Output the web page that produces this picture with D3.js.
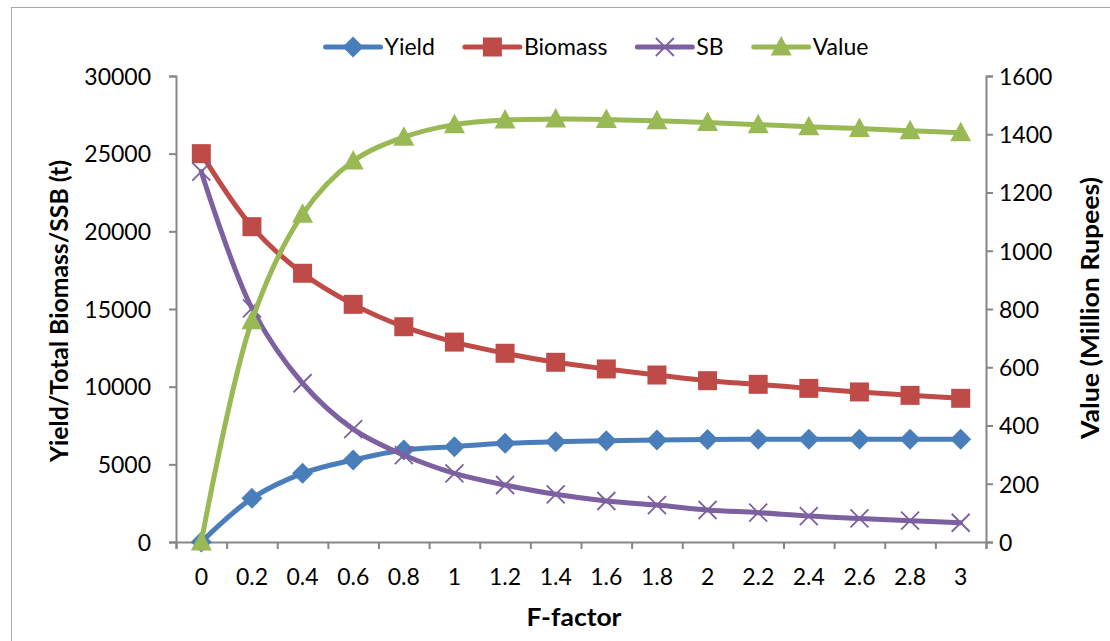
<!DOCTYPE html>
<html>
<head>
<meta charset="utf-8">
<script src="https://cdn.jsdelivr.net/npm/d3@7"></script>
<style>
  body { margin: 0; background: #fff; }
  text { font-family: Lato, "Open Sans", sans-serif; fill: #000; }
</style>
</head>
<body>
<div id="canvas"></div>
<script>
"use strict";

/* ------------------------------------------------------------
   Yield / Biomass / SB / Value against F-factor
   left axis = tonnes, right axis = million rupees
------------------------------------------------------------- */

let svgWidth = 1110;
let svgHeight = 641;
let margin = { top: 76, right: 124, bottom: 99, left: 176 };

/* === Data === */
let fFactor = ["0", "0.2", "0.4", "0.6", "0.8", "1", "1.2", "1.4", "1.6", "1.8", "2", "2.2", "2.4", "2.6", "2.8", "3"];
let yieldT = [0, 2810, 4420, 5280, 5920, 6140, 6350, 6460, 6520, 6570, 6600, 6610, 6620, 6620, 6620, 6620];
let biomassT = [25000, 20300, 17300, 15300, 13860, 12870, 12150, 11570, 11140, 10750, 10385, 10150, 9890, 9660, 9440, 9250];
let sbT = [23840, 15040, 10220, 7270, 5600, 4420, 3670, 3070, 2640, 2380, 2060, 1890, 1670, 1520, 1370, 1240];
let valueMR = [0, 760, 1125, 1308, 1390, 1433, 1449, 1452, 1451, 1446, 1440, 1433, 1426, 1420, 1412, 1405];

let leftTicks = [0, 5000, 10000, 15000, 20000, 25000, 30000];
let rightTicks = [0, 200, 400, 600, 800, 1000, 1200, 1400, 1600];

let series = [
  { name: "Yield", values: yieldT, axis: "left", color: "#4A7EBB", marker: "diamond" },
  { name: "Biomass", values: biomassT, axis: "left", color: "#BE4B48", marker: "square" },
  { name: "SB", values: sbT, axis: "left", color: "#7D60A0", marker: "x" },
  { name: "Value", values: valueMR, axis: "right", color: "#98B954", marker: "triangle" }
];

/* === Scales === */
let plotLeft = margin.left;
let plotRight = svgWidth - margin.right;
let plotBottom = svgHeight - margin.bottom;

let xScale = d3.scaleBand()
  .domain(fFactor)
  .range([plotLeft, plotRight])
  .paddingInner(0)
  .paddingOuter(0);

// boundaries between categories, used for the tick marks
let xEdge = d3.scaleLinear()
  .domain([0, fFactor.length])
  .range([plotLeft, plotRight]);

let yLeft = d3.scaleLinear()
  .domain([0, 30000])
  .range([plotBottom, margin.top]);

let yRight = d3.scaleLinear()
  .domain([0, 1600])
  .range([plotBottom, margin.top]);

/* === SVG === */
let svg = d3.select("#canvas")
  .append("svg")
  .attr("width", svgWidth)
  .attr("height", svgHeight);

svg.append("rect")
  .attr("width", svgWidth)
  .attr("height", svgHeight)
  .attr("fill", "#fff");

// chart frame (right and bottom edges fall outside the picture)
svg.append("rect")
  .attr("x", 11.5)
  .attr("y", 7.5)
  .attr("width", svgWidth + 20)
  .attr("height", svgHeight + 20)
  .attr("fill", "none")
  .attr("stroke", "#a8a8a8")
  .attr("stroke-width", 1);

/* === Axes === */
let axisColor = "#868686";

let gLeft = svg.append("g")
  .attr("transform", `translate(${plotLeft}, 0)`)
  .call(d3.axisLeft(yLeft).tickValues(leftTicks).tickSize(7).tickPadding(18).tickFormat(d3.format("d")));

let gRight = svg.append("g")
  .attr("transform", `translate(${plotRight}, 0)`)
  .call(d3.axisRight(yRight).tickValues(rightTicks).tickSize(7).tickPadding(6).tickFormat(d3.format("d")));

let gEdge = svg.append("g")
  .attr("transform", `translate(0, ${plotBottom})`)
  .call(d3.axisBottom(xEdge).ticks(fFactor.length).tickSize(7).tickFormat(""));

let gBottom = svg.append("g")
  .attr("transform", `translate(0, ${plotBottom})`)
  .call(d3.axisBottom(xScale).tickSize(0).tickPadding(27));

[gLeft, gRight, gEdge, gBottom].forEach(g => {
  g.selectAll("path.domain").attr("stroke", axisColor).attr("stroke-width", 2);
  g.selectAll(".tick line").attr("stroke", axisColor).attr("stroke-width", 2);
  g.selectAll(".tick text")
    .attr("font-family", "Lato, sans-serif")
    .attr("font-size", "23px")
    .attr("fill", "#000");
});
gBottom.select("path.domain").remove();
gLeft.selectAll(".tick text").attr("dy", "0.36em");
gRight.selectAll(".tick text").attr("dy", "0.36em");

/* === Markers === */
function markerPath(type) {
  if (type === "diamond") return "M0,-10.5L10.5,0L0,10.5L-10.5,0Z";
  if (type === "square") return "M-9.5,-9.5H9.5V9.5H-9.5Z";
  if (type === "triangle") return "M0,-11L10.5,8.5H-10.5Z";
  return "M-9,-9L9,9M-9,9L9,-9";
}

function drawMarker(g, type, color) {
  let p = g.append("path").attr("d", markerPath(type));
  if (type === "x") {
    p.attr("fill", "none").attr("stroke", color).attr("stroke-width", 1.8);
  } else {
    p.attr("fill", color);
  }
  return p;
}

/* === Lines === */
series.forEach(s => {
  let yScale = s.axis === "left" ? yLeft : yRight;
  let line = d3.line()
    .x((d, i) => xScale(fFactor[i]) + xScale.bandwidth() / 2)
    .y(d => yScale(d))
    .curve(d3.curveCatmullRom);

  let g = svg.append("g");

  g.append("path")
    .datum(s.values)
    .attr("d", line)
    .attr("fill", "none")
    .attr("stroke", s.color)
    .attr("stroke-width", 5)
    .attr("stroke-linejoin", "round")
    .attr("stroke-linecap", "round");

  s.values.forEach((v, i) => {
    let mg = g.append("g")
      .attr("transform", `translate(${xScale(fFactor[i]) + xScale.bandwidth() / 2}, ${yScale(v)})`);
    drawMarker(mg, s.marker, s.color);
  });
});

/* === Axis titles === */
// Calibri bold is narrower than Lato bold, so the lengths are pinned
svg.append("text")
  .attr("x", 574)
  .attr("y", 626)
  .attr("text-anchor", "middle")
  .attr("font-size", "24px")
  .attr("font-weight", "bold")
  .attr("textLength", 95)
  .attr("lengthAdjust", "spacingAndGlyphs")
  .text("F-factor");

svg.append("text")
  .attr("transform", `translate(68, 311) rotate(-90)`)
  .attr("text-anchor", "middle")
  .attr("font-size", "24px")
  .attr("font-weight", "bold")
  .attr("textLength", 302)
  .attr("lengthAdjust", "spacingAndGlyphs")
  .text("Yield/Total Biomass/SSB (t)");

svg.append("text")
  .attr("transform", `translate(1099, 308) rotate(-90)`)
  .attr("text-anchor", "middle")
  .attr("font-size", "24px")
  .attr("font-weight", "bold")
  .attr("textLength", 262)
  .attr("lengthAdjust", "spacingAndGlyphs")
  .text("Value (Million Rupees)");

/* === Legend === */
let legend = svg.append("g");
let lx = 0;
series.forEach(s => {
  let item = legend.append("g").attr("transform", `translate(${lx}, 47)`);
  item.append("line")
    .attr("x1", 0).attr("x2", 55)
    .attr("stroke", s.color)
    .attr("stroke-width", 5)
    .attr("stroke-linecap", "round");
  let mg = item.append("g").attr("transform", "translate(27.5, 0)");
  drawMarker(mg, s.marker, s.color);
  let t = item.append("text")
    .attr("x", 59)
    .attr("dy", "0.36em")
    .attr("font-size", "23px")
    .text(s.name);
  lx += 59 + t.node().getComputedTextLength() + 30;
});
let legendWidth = lx - 30;
legend.attr("transform", `translate(${597 - legendWidth / 2}, 0)`);
</script>
</body>
</html>
